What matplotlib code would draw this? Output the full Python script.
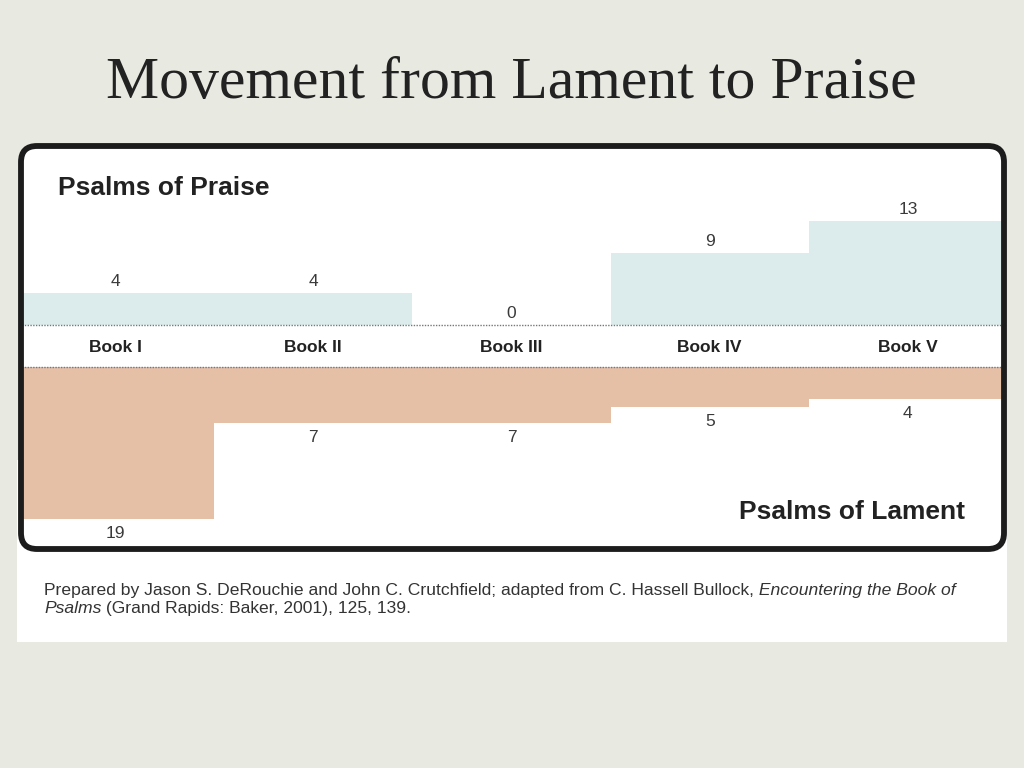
import matplotlib
matplotlib.use('Agg')
import matplotlib.pyplot as plt
from matplotlib.patches import FancyBboxPatch, Rectangle

# Données
books = ['Book I', 'Book II', 'Book III', 'Book IV', 'Book V']
praise = [4, 4, 0, 9, 13]
lament = [19, 7, 7, 5, 4]

title = 'Movement from Lament to Praise'
caption_1 = [('Prepared by Jason S. DeRouchie and John C. Crutchfield; adapted from C. Hassell Bullock,', 'normal'),
             (' Encountering the Book of', 'italic')]
caption_2 = [('Psalms', 'italic'), (' (Grand Rapids: Baker, 2001), 125, 139.', 'normal')]

W, H = 1024, 768
BG = '#e8e9e1'
PRAISE_C = '#dcebeb'
LAMENT_C = '#e6bfa7'
SANS = 'Liberation Sans'

fig = plt.figure(figsize=(W / 100, H / 100), dpi=100, facecolor=BG)


def px_axes(zorder):
    ax = fig.add_axes([0, 0, 1, 1], zorder=zorder)
    ax.set_xlim(0, W)
    ax.set_ylim(H, 0)
    ax.axis('off')
    ax.patch.set_alpha(0)
    return ax


# Fond : zone blanche + panneau arrondi
bg = px_axes(0)
bg.add_patch(Rectangle((17, 460), 990, 182, facecolor='white', edgecolor='none'))
panel = FancyBboxPatch((21, 146), 983, 403, boxstyle='round,pad=0,rounding_size=16',
                       facecolor='white', edgecolor='none')
bg.add_patch(panel)

bg.text(511, 98, title, ha='center', va='baseline', fontsize=43,
        family='Liberation Serif', color='#222222')

# Axes des barres (8 px par psaume)
scale = 8.0
left, right = 16, 1007
base_p, top_p = 325, 148
base_l, bot_l = 367, 548

ax_p = fig.add_axes([left / W, (H - base_p) / H, (right - left) / W, (base_p - top_p) / H], zorder=1)
ax_l = fig.add_axes([left / W, (H - bot_l) / H, (right - left) / W, (bot_l - base_l) / H], zorder=1)
for ax in (ax_p, ax_l):
    ax.set_xlim(0, len(books))
    ax.axis('off')
    ax.patch.set_alpha(0)
ax_p.set_ylim(0, (base_p - top_p) / scale)
ax_l.set_ylim(-(bot_l - base_l) / scale, 0)

x = list(range(len(books)))
bars_p = ax_p.bar(x, praise, width=1.0, align='edge', color=PRAISE_C, linewidth=0)
bars_l = ax_l.bar(x, [-v for v in lament], width=1.0, align='edge', color=LAMENT_C, linewidth=0)
for b in list(bars_p) + list(bars_l):
    b.set_clip_path(panel)

for ax in (ax_p, ax_l):
    ax.axhline(0, color='#777777', linestyle=(0, (1, 1)), linewidth=1.0, zorder=3,
               clip_path=panel)

for i, v in enumerate(praise):
    ax_p.annotate(str(v), (i + 0.5, v), xytext=(0, 12), textcoords='offset pixels',
                  ha='center', va='center', fontsize=12.5, family=SANS, color='#3a3a3a')
    ax_p.annotate(books[i], (i + 0.5, 0), xytext=(0, -23), textcoords='offset pixels',
                  ha='center', va='center', fontsize=12.5, family=SANS, fontweight='bold',
                  color='#222222')
for i, v in enumerate(lament):
    ax_l.annotate(str(v), (i + 0.5, -v), xytext=(0, -14), textcoords='offset pixels',
                  ha='center', va='center', fontsize=12.5, family=SANS, color='#3a3a3a')

# Bordure et titres du panneau
fg = px_axes(5)
fg.add_patch(FancyBboxPatch((21, 146), 983, 403, boxstyle='round,pad=0,rounding_size=16',
                            facecolor='none', edgecolor='#1c1c1c', linewidth=4.2))
fg.text(58, 195, 'Psalms of Praise', ha='left', va='baseline', fontsize=19,
        family=SANS, fontweight='bold', color='#222222')
fg.text(965, 519, 'Psalms of Lament', ha='right', va='baseline', fontsize=19,
        family=SANS, fontweight='bold', color='#222222')

# Légende source, avec italiques
renderer = fig.canvas.get_renderer()


def draw_runs(ax, x0, y0, runs):
    xc = x0
    for txt, style in runs:
        t = ax.text(xc, y0, txt, ha='left', va='baseline', fontsize=12.6, family=SANS,
                    style=style, color='#333333')
        xc += t.get_window_extent(renderer).width


draw_runs(fg, 44, 595, caption_1)
draw_runs(fg, 44, 613, caption_2)

fig.savefig('out.png', dpi=100, facecolor=BG)
